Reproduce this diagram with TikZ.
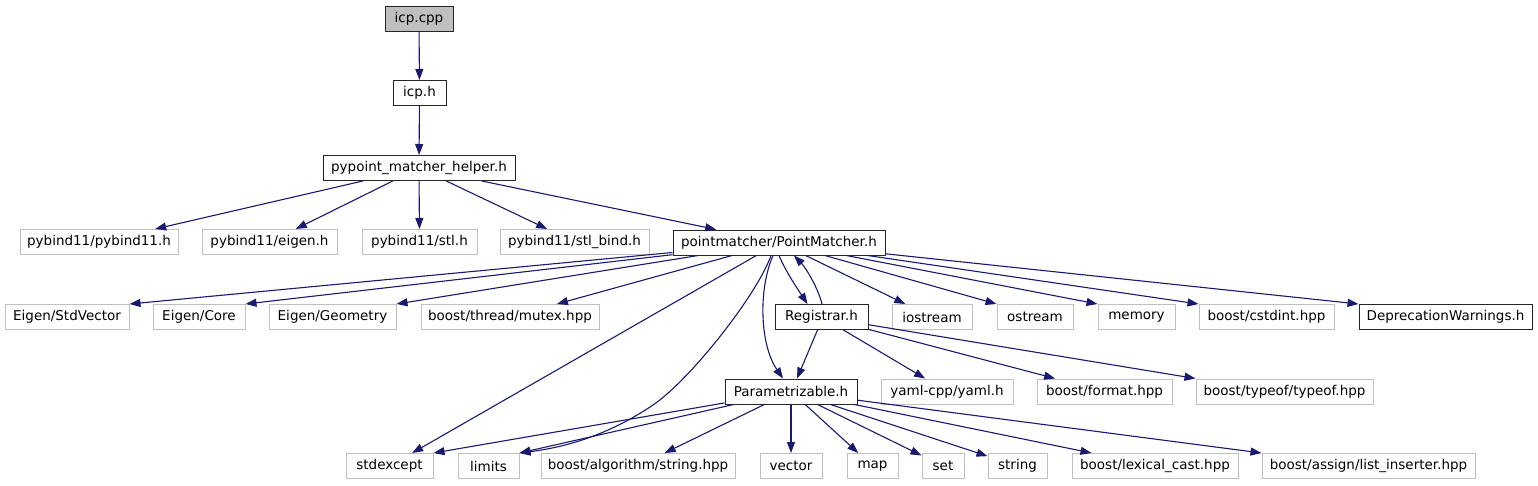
\documentclass[tikz,border=0pt]{standalone}
\usepackage{fontspec}
\setmainfont{DejaVu Sans}
\usepackage{tikz}
\usetikzlibrary{arrows.meta}
\definecolor{EdgeBlue}{HTML}{191970}
\definecolor{ExtGray}{HTML}{BFBFBF}

\begin{document}
\begin{tikzpicture}[
x=1pt,y=-1pt,
FileBox/.style={rectangle,inner sep=0pt,minimum height=25pt,line width=1pt,font=\fontsize{13.5}{15}\selectfont},
DocFile/.style={FileBox,draw=black!85},
ExtFile/.style={FileBox,draw=ExtGray},
MainFile/.style={FileBox,draw=black!85,fill=ExtGray},
Edge/.style={draw=EdgeBlue,line width=1.1pt,-{Triangle[length=11pt,width=8pt]}}
]
\useasboundingbox (0,0) rectangle (1538,485);

% top of the graph
\node[MainFile,minimum width=68pt] (icpcpp) at (419,18.5) {icp.cpp};
\node[DocFile,minimum width=53pt] (icph) at (419.5,93) {icp.h};
\node[DocFile,minimum width=192pt] (helper) at (419,168) {pypoint\_matcher\_helper.h};

% second row
\node[ExtFile,minimum width=158pt] (pybindmain) at (99,242) {pybind11/pybind11.h};
\node[ExtFile,minimum width=135pt] (pybindeigen) at (269.5,242) {pybind11/eigen.h};
\node[ExtFile,minimum width=115pt] (pybindstl) at (419.5,242) {pybind11/stl.h};
\node[ExtFile,minimum width=149pt] (pybindbind) at (574.5,242) {pybind11/stl\_bind.h};
\node[DocFile,minimum width=212pt] (pm) at (779,242.5) {pointmatcher/PointMatcher.h};

% third row
\node[ExtFile,minimum width=124pt] (stdvec) at (67,317) {Eigen/StdVector};
\node[ExtFile,minimum width=92pt] (core) at (199,317) {Eigen/Core};
\node[ExtFile,minimum width=127pt] (geom) at (332.5,317) {Eigen/Geometry};
\node[ExtFile,minimum width=178pt] (mutex) at (510,317) {boost/thread/mutex.hpp};
\node[DocFile,minimum width=93pt] (registrar) at (821.5,317) {Registrar.h};
\node[ExtFile,minimum width=80pt] (iostream) at (932,317) {iostream};
\node[ExtFile,minimum width=76pt] (ostream) at (1035,317) {ostream};
\node[ExtFile,minimum width=77pt] (memory) at (1136.5,317) {memory};
\node[ExtFile,minimum width=135pt] (cstdint) at (1266.5,317) {boost/cstdint.hpp};
\node[DocFile,minimum width=173pt] (depr) at (1445.5,317) {DeprecationWarnings.h};

% fourth row
\node[DocFile,minimum width=132pt] (param) at (791,391.5) {Parametrizable.h};
\node[ExtFile,minimum width=132pt] (yaml) at (947,391.5) {yaml-cpp/yaml.h};
\node[ExtFile,minimum width=135pt] (format) at (1104.5,391.5) {boost/format.hpp};
\node[ExtFile,minimum width=177pt] (typeof) at (1284.5,391.5) {boost/typeof/typeof.hpp};

% bottom row
\node[ExtFile,minimum width=87pt] (stdexcept) at (389.5,466) {stdexcept};
\node[ExtFile,minimum width=61pt] (limits) at (488.5,466) {limits};
\node[ExtFile,minimum width=194pt] (algo) at (638,466) {boost/algorithm/string.hpp};
\node[ExtFile,minimum width=62pt] (vector) at (791,466) {vector};
\node[ExtFile,minimum width=51pt] (map) at (872.5,466) {map};
\node[ExtFile,minimum width=42pt] (set) at (943,466) {set};
\node[ExtFile,minimum width=59pt] (string) at (1017.5,466) {string};
\node[ExtFile,minimum width=166pt] (lexical) at (1155,466) {boost/lexical\_cast.hpp};
\node[ExtFile,minimum width=213pt] (inserter) at (1368.5,466) {boost/assign/list\_inserter.hpp};

\draw[Edge] (icpcpp) -- (icph);
\draw[Edge] (icph) -- (helper);

\draw[Edge] (helper) -- (pybindmain);
\draw[Edge] (helper) -- (pybindeigen);
\draw[Edge] (helper) -- (pybindstl);
\draw[Edge] (helper) -- (pybindbind);
\draw[Edge] (helper) -- (pm);

% includes of PointMatcher.h
\draw[Edge] (pm) -- (stdvec.north east);
\draw[Edge] (pm) -- (core.north east);
\draw[Edge] (pm) -- (geom.north east);
\draw[Edge] (pm) -- (mutex);
\draw[Edge] (pm) -- (stdexcept);
\draw[Edge] ([xshift=-8pt]pm.south) .. controls (757,295) and (690,380) .. (653,405)
  .. controls (616,430) and (575,446) .. (limits.north east);
\draw[Edge] ([xshift=-6pt]pm.south) .. controls (758,290) and (760,345) .. ([xshift=-8pt]param.north);
\draw[Edge] (pm.south) .. controls (786,272) and (797,288) .. ([xshift=-14pt]registrar.north);
\draw[Edge] (pm) -- (iostream);
\draw[Edge] (pm) -- (ostream.north west);
\draw[Edge] (pm) -- (memory.north west);
\draw[Edge] (pm) -- (cstdint.north west);
\draw[Edge] (pm) -- (depr.north west);

% includes of Registrar.h
\draw[Edge] ([xshift=0.5pt]registrar.north) .. controls (818,288) and (806,268) .. ([xshift=15pt]pm.south);
\draw[Edge] ([xshift=-4pt]registrar.south) -- ([xshift=6pt]param.north);
\draw[Edge] (registrar) -- (yaml);
\draw[Edge] (registrar) -- (format);
\draw[Edge] (registrar) -- (typeof.north west);

% includes of Parametrizable.h
\draw[Edge] (param) -- (stdexcept.north east);
\draw[Edge] (param) -- (limits.north east);
\draw[Edge] (param) -- (algo);
\draw[Edge] (param) -- (vector);
\draw[Edge] (param) -- (map);
\draw[Edge] (param) -- (set);
\draw[Edge] (param) -- (string);
\draw[Edge] (param) -- (lexical);
\draw[Edge] (param) -- (inserter.north west);

\end{tikzpicture}
\end{document}
